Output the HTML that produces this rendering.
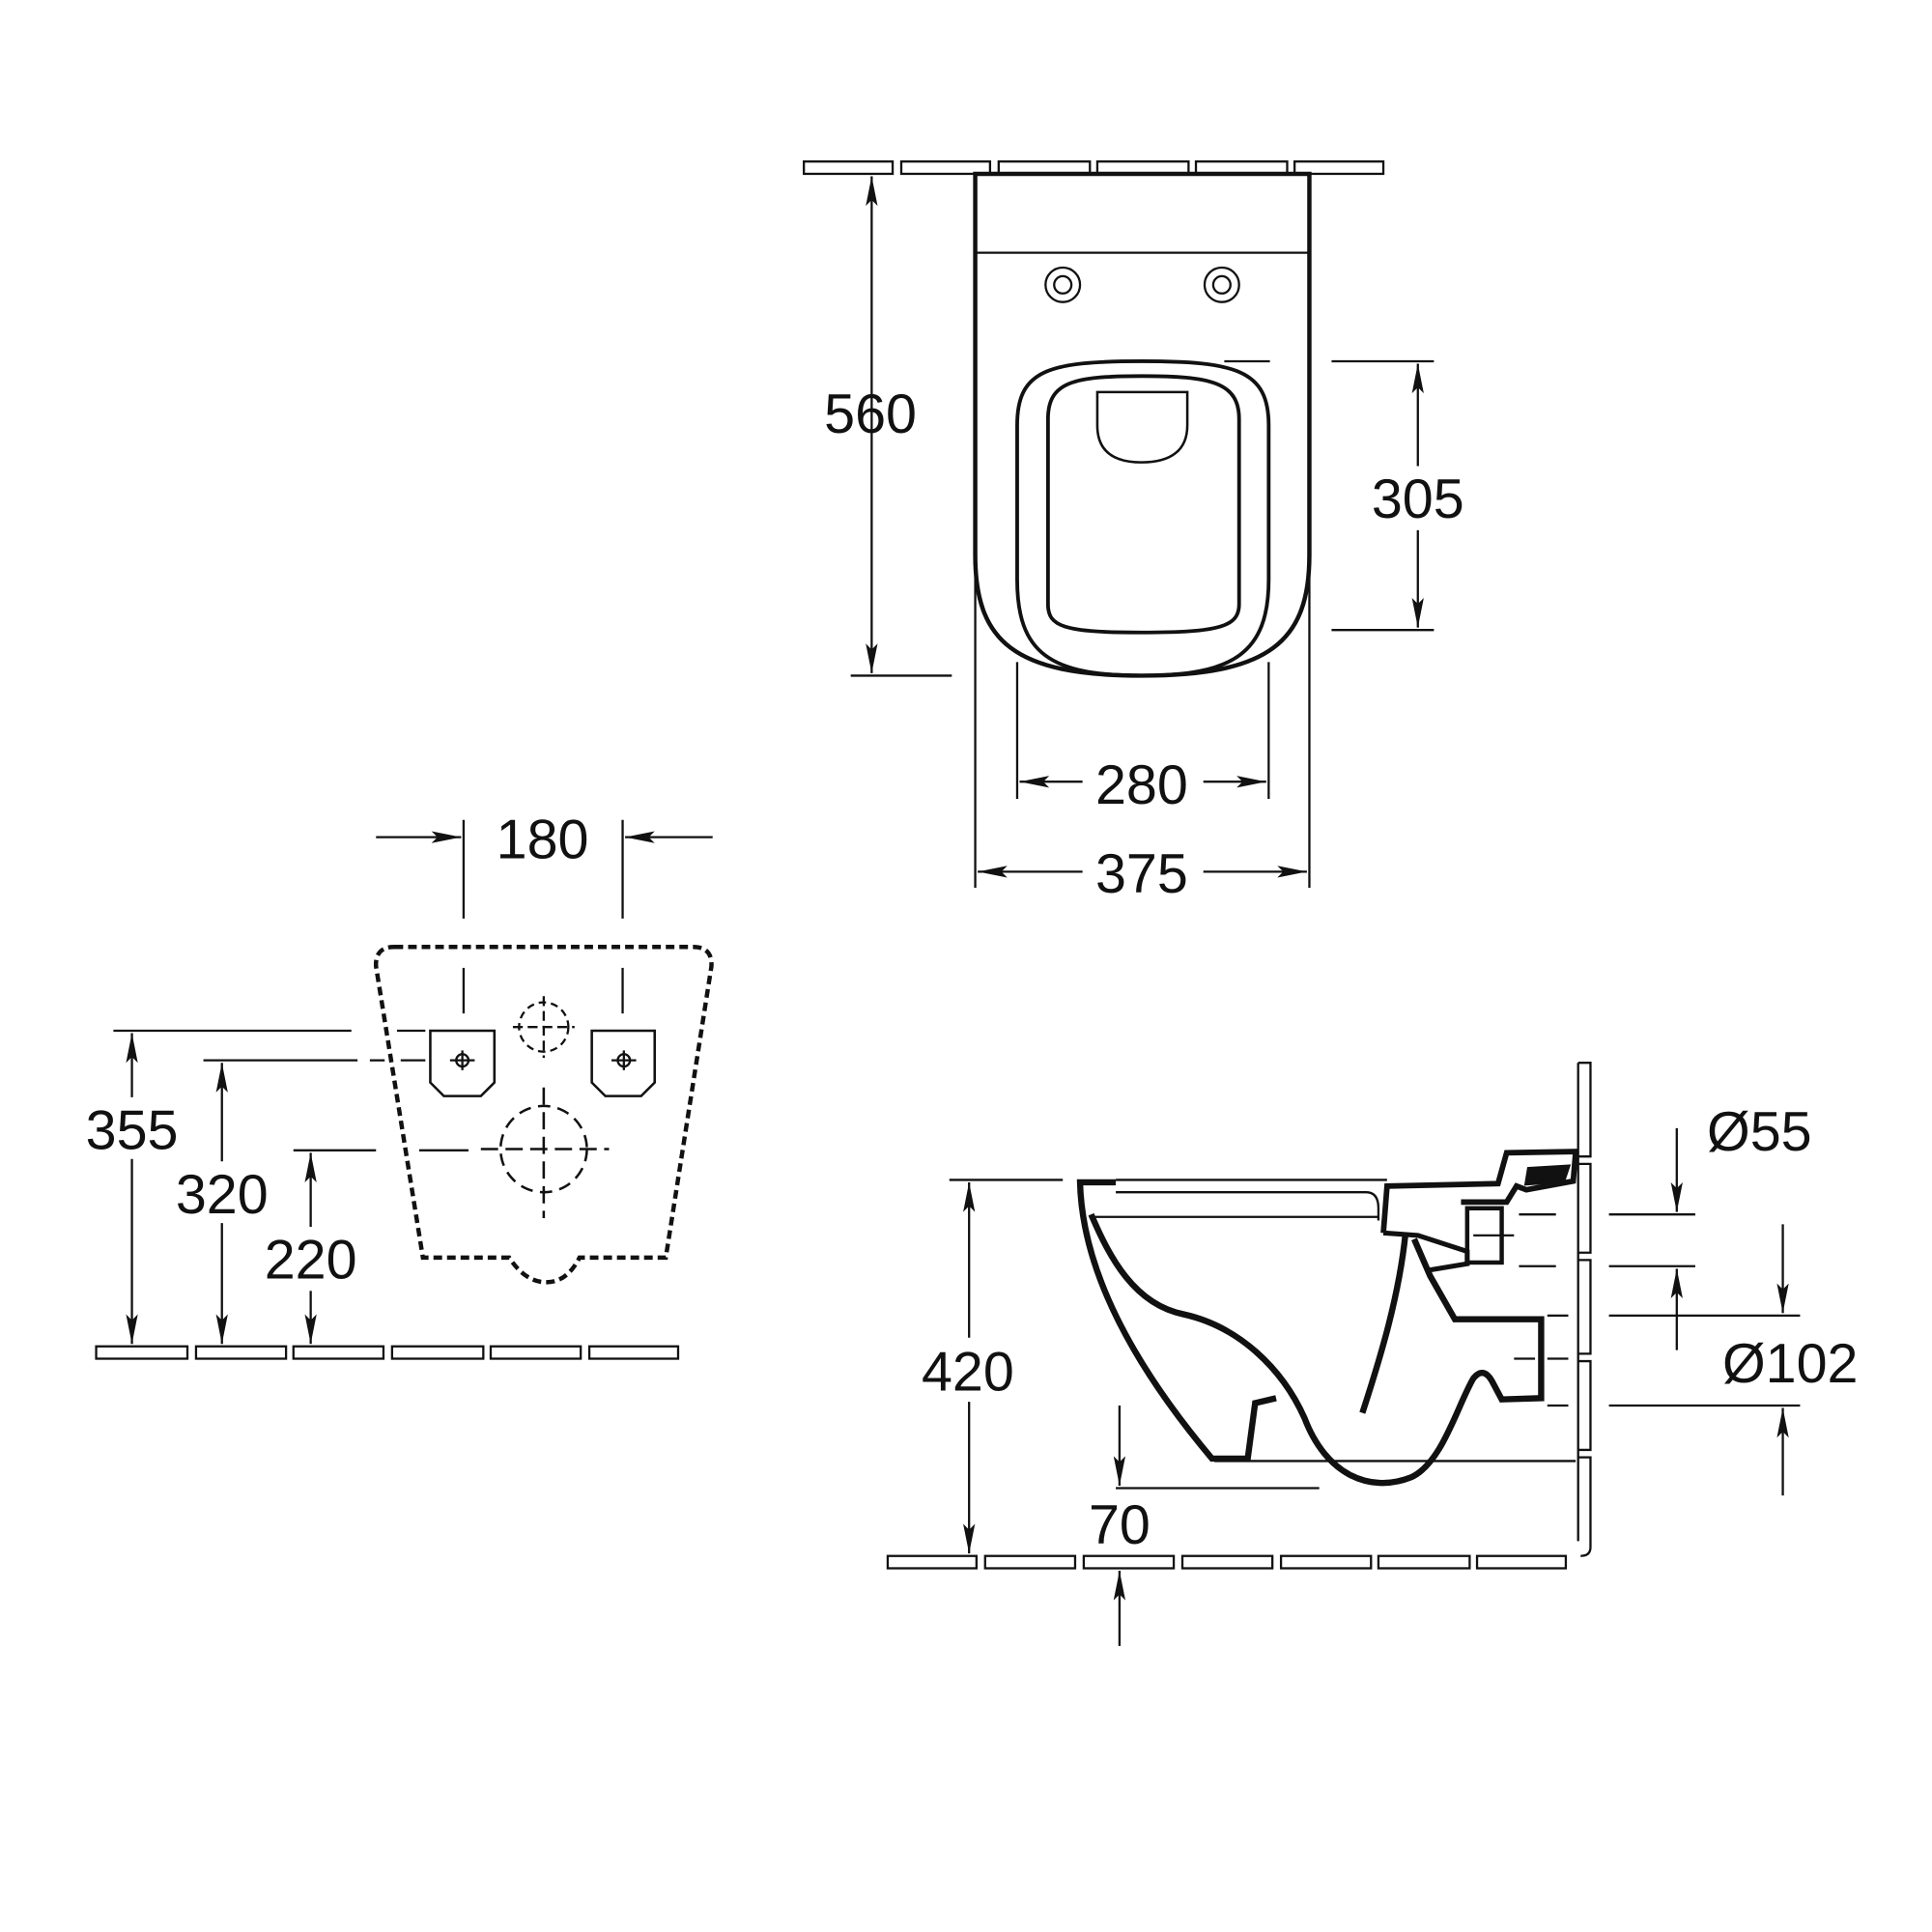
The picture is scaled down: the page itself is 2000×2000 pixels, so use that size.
<!DOCTYPE html>
<html><head><meta charset="utf-8"><style>
html,body{margin:0;padding:0;background:#fff;}
svg{display:block;}
text{font-family:"Liberation Sans",sans-serif;font-size:45px;fill:#111;text-anchor:middle;}
</style></head><body>
<svg width="2000" height="2000" viewBox="0 0 1567 1567" xmlns="http://www.w3.org/2000/svg">
<defs>
<marker id="b" viewBox="0 0 20 10" refX="20" refY="5" markerWidth="26" markerHeight="12" markerUnits="userSpaceOnUse" orient="auto-start-reverse">
<path d="M0,1 L20,5 L0,9 L4,5z" fill="#111"/></marker>
</defs>
<g fill="none" stroke="#111" stroke-width="1.8">
<rect x="652" y="131" width="72" height="10"/><rect x="731" y="131" width="72" height="10"/><rect x="810" y="131" width="74" height="10"/><rect x="890" y="131" width="74" height="10"/><rect x="970" y="131" width="74" height="10"/><rect x="1050" y="131" width="72" height="10"/>
<path d="M791,141 L1062,141 L1062,450 C1062,520 1030,548 926,548 C822,548 791,520 791,450 Z" stroke-width="3.5"/>
<line x1="791" y1="205" x2="1062" y2="205"/>
<circle cx="862" cy="231" r="14"/><circle cx="862" cy="231" r="7"/>
<circle cx="991" cy="231" r="14"/><circle cx="991" cy="231" r="7"/>
<path d="M825,345 C825,300 850,293 926,293 C1002,293 1029,300 1029,345 L1029,470 C1029,530 1000,548 926,548 C852,548 825,530 825,470 Z" stroke-width="3"/>
<path d="M850,340 C850,310 870,305 926,305 C982,305 1005,310 1005,340 L1005,490 C1005,508 990,513 926,513 C862,513 850,508 850,490 Z" stroke-width="3"/>
<path d="M890,318 L963,318 L963,345 C963,365 950,375 926,375 C902,375 890,365 890,345 Z" stroke-width="2"/>
<line x1="690" y1="548" x2="772" y2="548"/>
<line x1="707" y1="143" x2="707" y2="546" marker-start="url(#b)" marker-end="url(#b)"/>
<line x1="993" y1="293" x2="1030" y2="293"/>
<line x1="1080" y1="293" x2="1163" y2="293"/><line x1="1080" y1="511" x2="1163" y2="511"/>
<line x1="1150" y1="295" x2="1150" y2="378" marker-start="url(#b)"/>
<line x1="1150" y1="430" x2="1150" y2="509" marker-end="url(#b)"/>
<line x1="825" y1="537" x2="825" y2="648"/><line x1="1029" y1="537" x2="1029" y2="648"/>
<line x1="827" y1="634" x2="878" y2="634" marker-start="url(#b)"/>
<line x1="976" y1="634" x2="1027" y2="634" marker-end="url(#b)"/>
<line x1="791" y1="453" x2="791" y2="720"/><line x1="1062" y1="453" x2="1062" y2="720"/>
<line x1="793" y1="707" x2="878" y2="707" marker-start="url(#b)"/>
<line x1="976" y1="707" x2="1060" y2="707" marker-end="url(#b)"/>

<path d="M320,768 L562,768 Q578,768 577,784 L540,1020 L470,1020 Q460,1040 443,1040 Q426,1040 413,1020 L343,1020 L305,784 Q304,768 320,768 Z" stroke-width="3.5" stroke-dasharray="7,4"/>
<path d="M349,836 L401,836 L401,878 L390,889 L360,889 L349,878 Z" stroke-width="2"/>
<path d="M480,836 L531,836 L531,878 L520,889 L491,889 L480,878 Z" stroke-width="2"/>
<circle cx="375" cy="860" r="5"/><line x1="365" y1="860" x2="385" y2="860"/><line x1="375" y1="852" x2="375" y2="868"/>
<circle cx="506" cy="860" r="5"/><line x1="496" y1="860" x2="516" y2="860"/><line x1="506" y1="852" x2="506" y2="868"/>
<circle cx="441" cy="833" r="20" stroke-dasharray="6,4"/>
<line x1="441" y1="808" x2="441" y2="858" stroke-dasharray="8,4"/><line x1="416" y1="833" x2="466" y2="833" stroke-dasharray="8,4"/>
<circle cx="441" cy="932" r="35" stroke-width="2" stroke-dasharray="10,6"/>
<line x1="441" y1="882" x2="441" y2="988" stroke-width="2" stroke-dasharray="14,6"/><line x1="390" y1="932" x2="494" y2="932" stroke-width="2" stroke-dasharray="14,6"/>
<line x1="376" y1="665" x2="376" y2="745"/><line x1="505" y1="665" x2="505" y2="745"/>
<line x1="376" y1="785" x2="376" y2="822"/><line x1="505" y1="785" x2="505" y2="822"/>
<line x1="305" y1="679" x2="374" y2="679" marker-end="url(#b)"/>
<line x1="578" y1="679" x2="507" y2="679" marker-end="url(#b)"/>
<line x1="92" y1="836" x2="285" y2="836"/><line x1="322" y1="836" x2="345" y2="836"/>
<line x1="165" y1="860" x2="290" y2="860"/><line x1="300" y1="860" x2="312" y2="860"/><line x1="325" y1="860" x2="345" y2="860"/>
<line x1="238" y1="933" x2="305" y2="933"/><line x1="340" y1="933" x2="380" y2="933"/>
<line x1="107" y1="838" x2="107" y2="890" marker-start="url(#b)"/><line x1="107" y1="940" x2="107" y2="1090" marker-end="url(#b)"/>
<line x1="180" y1="862" x2="180" y2="942" marker-start="url(#b)"/><line x1="180" y1="992" x2="180" y2="1090" marker-end="url(#b)"/>
<line x1="252" y1="935" x2="252" y2="995" marker-start="url(#b)"/><line x1="252" y1="1047" x2="252" y2="1090" marker-end="url(#b)"/>
<rect x="78" y="1092" width="74" height="10"/><rect x="159" y="1092" width="73" height="10"/><rect x="238" y="1092" width="73" height="10"/><rect x="318" y="1092" width="74" height="10"/><rect x="398" y="1092" width="73" height="10"/><rect x="478" y="1092" width="72" height="10"/>

<path d="M1280,862 L1290,862 L1290,938 L1280,938"/>
<path d="M1280,944 L1290,944 L1290,1016 L1280,1016"/>
<path d="M1280,1022 L1290,1022 L1290,1098 L1280,1098"/>
<path d="M1280,1104 L1290,1104 L1290,1176 L1280,1176"/>
<path d="M1280,1182 L1290,1182 L1290,1255 Q1290,1262 1282,1262"/>
<line x1="1280" y1="862" x2="1280" y2="1250"/>
<rect x="720" y="1262" width="72" height="10"/><rect x="799" y="1262" width="73" height="10"/><rect x="879" y="1262" width="73" height="10"/><rect x="959" y="1262" width="73" height="10"/><rect x="1039" y="1262" width="73" height="10"/><rect x="1118" y="1262" width="74" height="10"/><rect x="1198" y="1262" width="72" height="10"/>
<line x1="905" y1="957" x2="1125" y2="957"/>
<path d="M905,967 L1108,967 Q1118,967 1118,980 L1118,990"/>
<line x1="885" y1="987" x2="1118" y2="987"/>
<line x1="985" y1="1185" x2="1278" y2="1185"/>
<path d="M905,959 L876,959 C878,1040 930,1120 983,1183 L1012,1183 L1018,1138 L1035,1134" stroke-width="5"/>
<path d="M885,985 C900,1020 920,1058 960,1066 C1005,1076 1040,1110 1058,1150 C1075,1195 1110,1212 1145,1198 C1170,1186 1182,1140 1195,1118 Q1203,1108 1210,1120 L1218,1135 L1250,1134 L1250,1070 L1180,1070 L1160,1035 L1147,1005" stroke-width="5"/>
<path d="M1105,1146 C1120,1100 1135,1050 1140,1000" stroke-width="5"/>
<path d="M1122,1000 L1125,962 L1215,960 L1222,935 L1278,934 L1276,958 L1238,965 L1230,962 L1222,975 L1185,975" stroke-width="4.5"/>
<path d="M1240,948 L1272,946 L1268,958 L1238,960 Z" stroke-width="3" fill="#111"/>
<path d="M1122,1000 L1150,1002 L1190,1015 L1190,1025 L1160,1030" stroke-width="4"/>
<rect x="1190" y="980" width="28" height="44" stroke-width="3.5"/>
<line x1="1195" y1="1002" x2="1228" y2="1002"/>
<line x1="770" y1="957" x2="862" y2="957"/>
<line x1="786" y1="959" x2="786" y2="1085" marker-start="url(#b)"/><line x1="786" y1="1137" x2="786" y2="1260" marker-end="url(#b)"/>
<line x1="905" y1="1207" x2="1070" y2="1207"/>
<line x1="908" y1="1140" x2="908" y2="1205" marker-end="url(#b)"/>
<line x1="908" y1="1335" x2="908" y2="1274" marker-end="url(#b)"/>
<line x1="1305" y1="985" x2="1375" y2="985"/><line x1="1305" y1="1027" x2="1375" y2="1027"/>
<line x1="1232" y1="985" x2="1262" y2="985"/><line x1="1232" y1="1027" x2="1262" y2="1027"/>
<line x1="1360" y1="915" x2="1360" y2="983" marker-end="url(#b)"/>
<line x1="1360" y1="1095" x2="1360" y2="1029" marker-end="url(#b)"/>
<line x1="1305" y1="1067" x2="1460" y2="1067"/><line x1="1305" y1="1140" x2="1460" y2="1140"/>
<line x1="1255" y1="1067" x2="1272" y2="1067"/><line x1="1255" y1="1140" x2="1272" y2="1140"/>
<line x1="1228" y1="1102" x2="1245" y2="1102"/><line x1="1255" y1="1102" x2="1272" y2="1102"/>
<line x1="1446" y1="993" x2="1446" y2="1065" marker-end="url(#b)"/>
<line x1="1446" y1="1213" x2="1446" y2="1142" marker-end="url(#b)"/>
</g>
<text x="706" y="351">560</text>
<text x="1150" y="420">305</text>
<text x="926" y="652">280</text>
<text x="926" y="724">375</text>
<text x="440" y="696">180</text>
<text x="107" y="932">355</text>
<text x="180" y="984">320</text>
<text x="252" y="1037">220</text>
<text x="785" y="1128">420</text>
<text x="908" y="1252">70</text>
<text x="1427" y="933">Ø55</text>
<text x="1452" y="1121">Ø102</text>
</svg>
</body></html>
